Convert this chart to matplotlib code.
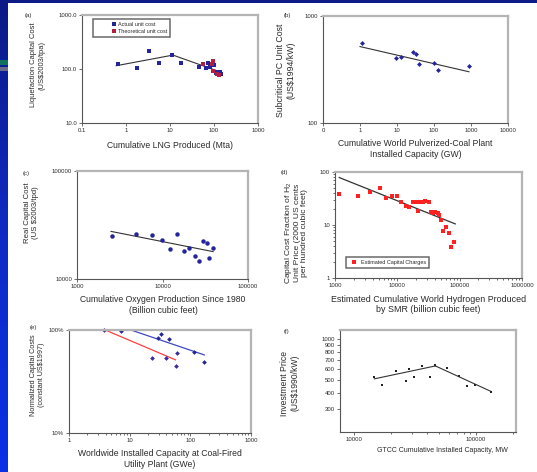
import numpy as np
import matplotlib
matplotlib.use("Agg")
import matplotlib.pyplot as plt
from matplotlib.patches import Rectangle
from matplotlib.colors import LinearSegmentedColormap
from matplotlib.ticker import NullLocator, FixedLocator

plt.rcParams['font.family'] = ['Liberation Sans', 'DejaVu Sans']
plt.rcParams['mathtext.fontset'] = 'custom'
plt.rcParams['mathtext.rm'] = 'Liberation Sans'
plt.rcParams['mathtext.it'] = 'Liberation Sans:italic'
plt.rcParams['mathtext.default'] = 'regular'

W, H, DPI = 537, 472, 100
TXT = '#2a2a2a'

# ---------------- data ----------------
# (a) LNG liquefaction
lng_actual_x = [0.67, 1.75, 3.4, 5.6, 11.3, 17.8, 45, 66, 74, 81, 102, 111, 115, 137, 142]
lng_actual_y = [122, 103, 219, 131, 179, 131, 107, 103, 127, 110, 119, 83, 89, 87, 80]
lng_theory_x = [55, 89, 93, 96, 119, 130]
lng_theory_y = [124, 124, 143, 93, 80, 77]
lng_rise_x = [0.6, 11.3]
lng_rise_y = [115, 180]
lng_fit = (369, -0.29)
lng_fit_range = [11.3, 140]

# (b) subcritical PC plants
pc_x = [1.1, 9.4, 12.6, 26.5, 32.6, 39, 102, 126, 880]
pc_y = [563, 408, 411, 458, 439, 358, 366, 311, 343]
pc_fit = (518, -0.08)
pc_fit_range = [1.0, 880]

# (c) oxygen production
oxy_x = [2570, 4940, 7460, 9860, 12350, 14900, 17700, 20400, 23800, 26500, 29800, 33100, 35000, 39000]
oxy_y = [25000, 26100, 25600, 22900, 18900, 26100, 18000, 19300, 16400, 14700, 22500, 21400, 15500, 19300]
oxy_fit = (94254, -0.157)
oxy_fit_range = [2500, 39000]

# (d) hydrogen by SMR
h2_x = [1170, 2370, 3650, 5270, 6590, 8130, 9780, 11450, 13800, 15600, 18100, 19950, 21700, 23100,
        25500, 27900, 31900, 34400, 37900, 40800, 44500, 46200, 50800, 54700, 60500, 67600, 73600, 82200]
h2_y = [38.5, 35.7, 42.5, 49.9, 32.7, 35.2, 35.2, 27.5, 22.8, 22.2, 27.5, 27.5, 18.4, 26.8,
        26.8, 28.4, 26.8, 17.4, 16.6, 17.8, 16.6, 15.5, 12.4, 7.8, 9.3, 7.0, 3.9, 4.7]
h2_fit = (2174.96, -0.47)
h2_fit_range = [1170, 85000]

# (e) SCR / FGD
scr_x = [3.8, 23, 39, 57, 59.5]
scr_y = [0.99, 0.54, 0.54, 0.45, 0.60]
fgd_x = [7.1, 29.7, 32.8, 45, 116, 170]
fgd_y = [0.98, 0.843, 0.915, 0.818, 0.607, 0.493]
scr_fit = (1.41, -0.25)
scr_fit_range = [4.0, 57]
fgd_fit = (1.60, -0.20)
fgd_fit_range = [10.5, 170]

# (f) GTCC
gtcc_x = [14700, 17000, 22100, 26500, 28000, 31200, 35900, 42300, 46500, 57800, 72100, 84900, 98800, 134000]
gtcc_y = [518, 456, 580, 491, 596, 526, 631, 520, 641, 606, 532, 446, 456, 405]
gtcc_early_x = [14700, 46500]
gtcc_early_y = [506, 631]
gtcc_pr_late = 0.75
gtcc_late_x = [46500, 134000]

SUP = str.maketrans('-0123456789.', '⁻⁰¹²³⁴⁵⁶⁷⁸⁹·')


def eq_text(coef, exp):
    """Power-law trend label with a superscript exponent."""
    return f'y = {coef:g}x' + f'{exp:g}'.translate(SUP)


# ---------------- figure ----------------
fig = plt.figure(figsize=(W / DPI, H / DPI), dpi=DPI)
fig.patch.set_facecolor('white')
bg = fig.add_axes([0, 0, 1, 1])
bg.set_xlim(0, W)
bg.set_ylim(H, 0)
bg.axis('off')

strip = LinearSegmentedColormap.from_list('strip', ['#0c1a86', '#0f2bc4', '#0a30e6'])
bg.imshow(np.linspace(0, 1, 256)[:, None], extent=[0, 8, H, 0], cmap=strip, aspect='auto', zorder=0)
bg.add_patch(Rectangle((0, 0), W, 2.5, color='#0c1a86', lw=0, zorder=1))
bg.add_patch(Rectangle((0, 60), 8, 5, color='#127060', lw=0, zorder=1))
bg.add_patch(Rectangle((0, 66.5), 8, 4.5, color='#6a6a8a', lw=0, zorder=1))

PIX = bg.transData


def panel(box):
    x0, y0, x1, y1 = box
    ax = fig.add_axes([x0 / W, 1 - y1 / H, (x1 - x0) / W, (y1 - y0) / H])
    ax.set_xscale('log')
    ax.set_yscale('log')
    for s in ('left', 'bottom'):
        ax.spines[s].set_color('#555555')
        ax.spines[s].set_linewidth(0.8)
    for s in ('top', 'right'):
        ax.spines[s].set_color('#b4b4b4')
        ax.spines[s].set_linewidth(1.6)
    ax.tick_params(which='both', direction='out', length=2, width=0.6, color='#555555',
                   labelsize=4.3, labelcolor=TXT, pad=1.5)
    ax.tick_params(which='minor', length=1.3)
    ax.xaxis.set_minor_locator(NullLocator())
    ax.yaxis.set_minor_locator(NullLocator())
    return ax


def labels(ax, xl, xpos, yl, ypos, xsize=6.2, ysize=5.6, yspace=1.2):
    ax.set_xlabel(xl, fontsize=xsize, color=TXT, va='top', linespacing=1.15)
    ax.xaxis.set_label_coords(*xpos, transform=PIX)
    ax.set_ylabel(yl, fontsize=ysize, color=TXT, linespacing=yspace)
    ax.yaxis.set_label_coords(*ypos, transform=PIX)


def note(x, y, s, size=3.5, **kw):
    bg.text(x, y, s, fontsize=size, color=TXT, transform=PIX, va='center', **kw)


def power(coef, exp, rng, n=50):
    xs = np.logspace(np.log10(rng[0]), np.log10(rng[1]), n)
    return xs, coef * xs ** exp


def legend_box(ax, anchor, fs, hl, htp):
    lg = ax.legend(loc='upper left', bbox_to_anchor=anchor, fontsize=fs, frameon=True,
                   fancybox=False, borderaxespad=0, handlelength=hl, handletextpad=htp,
                   borderpad=0.55, labelspacing=0.35)
    lg.get_frame().set_edgecolor('#444444')
    lg.get_frame().set_linewidth(1.1)
    for t in lg.get_texts():
        t.set_color(TXT)
    return lg


BLUE = '#24249c'

# (a)
ax = panel((82, 15, 258, 123))
ax.set_xlim(0.1, 1000)
ax.set_ylim(10, 1000)
ax.set_xticks([0.1, 1, 10, 100, 1000], ['0.1', '1', '10', '100', '1000'])
ax.set_yticks([10, 100, 1000], ['10.0', '100.0', '1000.0'])
ax.plot(lng_rise_x, lng_rise_y, color='#333333', lw=0.8)
fx, fy = power(*lng_fit, lng_fit_range)
ax.plot(fx, fy, color='#333333', lw=0.8)
ax.plot(lng_actual_x, lng_actual_y, 's', ms=2.3, color=BLUE, mew=0, label='Actual unit cost')
ax.plot(lng_theory_x, lng_theory_y, 's', ms=2.3, color='#b0203c', mew=0, label='Theoretical unit cost')
legend_box(ax, (0.0625, 0.963), 4.0, 6.5, -2.6)
labels(ax, 'Cumulative LNG Produced (Mta)', (170, 141.5), 'Liquefaction Capital Cost\n(US$2003/tpa)',
       (45, 65), ysize=5.4)
note(25, 15, '(a)', size=4.4)
note(185, 82.5, eq_text(*lng_fit))
note(188, 90, 'R² = 0.92')

# (b)
ax = panel((323, 16, 508, 123))
ax.set_xlim(0.1, 10000)
ax.set_ylim(100, 1000)
ax.set_xticks([0.1, 1, 10, 100, 1000, 10000], ['0', '1', '10', '100', '1000', '10000'])
ax.set_yticks([100, 1000], ['100', '1000'])
fx, fy = power(*pc_fit, pc_fit_range)
ax.plot(fx, fy, color='#333333', lw=0.8)
ax.plot(pc_x, pc_y, 'D', ms=2.5, color=BLUE, mew=0)
labels(ax, 'Cumulative World Pulverized-Coal Plant\nInstalled Capacity (GW)', (415.5, 139.5),
       'Subcritical PC Unit Cost\n(US$1994/kW)', (295, 70), ysize=6.3)
note(284, 15, '(b)', size=4.4)
note(452, 50.7, '1965')
note(412, 87.7, eq_text(*pc_fit))
note(414, 95.5, 'R² = 0.71')

# (c)
ax = panel((77, 171, 248, 279))
ax.set_xlim(1000, 100000)
ax.set_ylim(10000, 100000)
ax.set_xticks([1000, 10000, 100000], ['1000', '10000', '100000'])
ax.set_yticks([10000, 100000], ['10000', '100000'])
fx, fy = power(*oxy_fit, oxy_fit_range)
ax.plot(fx, fy, color='#333333', lw=0.8)
ax.plot(oxy_x, oxy_y, 'o', ms=3.2, color=BLUE, mew=0)
labels(ax, 'Cumulative Oxygen Production Since 1980\n(Billion cubic feet)', (163, 295.5),
       'Real Capital Cost\n(US $2003/tpd)', (39, 213))
note(23, 173, '(c)', size=4.4)
note(115, 189, eq_text(*oxy_fit))
note(119, 196, 'R² = 0.43')

# (d)
ax = panel((335, 172, 522, 278))
ax.set_xlim(1000, 1000000)
ax.set_ylim(1, 100)
ax.set_xticks([1000, 10000, 100000, 1000000], ['1000', '10000', '100000', '1000000'])
ax.set_yticks([1, 10, 100], ['1', '10', '100'])
ax.yaxis.set_minor_locator(FixedLocator([m * d for d in (1, 10) for m in range(2, 10)]))
ax.xaxis.set_minor_locator(FixedLocator([m * d for d in (1000, 10000, 100000) for m in range(2, 10)]))
fx, fy = power(*h2_fit, h2_fit_range)
ax.plot(fx, fy, color='#333333', lw=0.9)
ax.plot(h2_x, h2_y, 's', ms=2.4, color='#ff2020', mew=0, label='Estimated Capital Charges')
legend_box(ax, (0.059, 0.201), 4.0, 1.8, 0.3)
labels(ax, 'Estimated Cumulative World Hydrogen Produced\nby SMR (billion cubic feet)', (428.5, 294.5),
       'Capital Cost Fraction of H$_2$\nUnit Price (2000 US cents\nper hundred cubic feet)', (308, 233),
       xsize=6.4, ysize=6.1, yspace=1.05)
note(281, 172.7, '(d)', size=4.4)
note(437, 184.3, eq_text(*h2_fit))
note(446, 192.3, 'R² = 0.65')

# (e)
ax = panel((69, 330, 251, 433))
ax.set_xlim(1, 1000)
ax.set_ylim(0.1, 1.0)
ax.set_xticks([1, 10, 100, 1000], ['1', '10', '100', '1000'])
ax.set_yticks([0.1, 1.0], ['10%', '100%'])
ax.xaxis.set_minor_locator(FixedLocator([m * d for d in (1, 10, 100) for m in range(2, 10)]))
fx, fy = power(*scr_fit, scr_fit_range)
ax.plot(fx, fy, color='#ff4040', lw=0.9)
fx, fy = power(*fgd_fit, fgd_fit_range)
ax.plot(fx, fy, color='#4048c0', lw=0.9)
ax.plot(scr_x, scr_y, 'D', ms=2.4, color='#3a2aa0', mew=0, clip_on=False)
ax.plot(fgd_x, fgd_y, 'D', ms=2.4, color=BLUE, mew=0, clip_on=False)
labels(ax, 'Worldwide Installed Capacity at Coal-Fired\nUtility Plant (GWe)', (160, 449.5),
       'Normalized Capital Costs\n(constant US$1997)', (45, 375), ysize=5.2)
note(30, 328, '(e)', size=4.4)
note(110, 357, 'SCR', ha='center')
note(110, 363.5, eq_text(*scr_fit).replace('1.41x', '1.41x'), ha='center')
note(110, 370, 'R² = 0.75', ha='center')
note(201, 367, 'FGD')
note(201, 373.5, eq_text(1.60, fgd_fit[1]).replace('1.6x', '1.60x'))
note(203, 380, 'R² = 0.79')

# (f)
ax = panel((340, 330, 516, 432))
ax.set_xlim(7680, 213000)
ax.set_ylim(204, 1166)
ax.set_xticks([10000, 100000], ['10000', '100000'])
ax.xaxis.set_minor_locator(FixedLocator([20000, 30000, 40000, 50000, 60000, 70000, 80000, 90000, 200000]))
yt = [300, 400, 500, 600, 700, 800, 900, 1000]
ax.set_yticks(yt, [str(v) for v in yt])
ax.plot(gtcc_early_x, gtcc_early_y, color='#333333', lw=0.8)
late_y = [gtcc_early_y[1] * (x / gtcc_late_x[0]) ** np.log2(gtcc_pr_late) for x in gtcc_late_x]
ax.plot(gtcc_late_x, late_y, color='#333333', lw=0.8)
ax.plot(gtcc_x, gtcc_y, 's', ms=2.0, color='#222222', mew=0)
labels(ax, 'GTCC Cumulative Installed Capacity, MW', (442, 447.5),
       'Investment Price\n(US$1990/kW)', (299, 383), xsize=5.0, ysize=6.2)
note(284, 331, '(f)', size=4.4)
note(357, 357.7, 'PR=100% (1981-1991)')
note(457, 369, 'PR=75% (1991-1997)')
note(513, 424.3, '(Source: Colpier and Cornland, 2002)', ha='right')

fig.savefig('out.png', dpi=DPI, facecolor='white')
